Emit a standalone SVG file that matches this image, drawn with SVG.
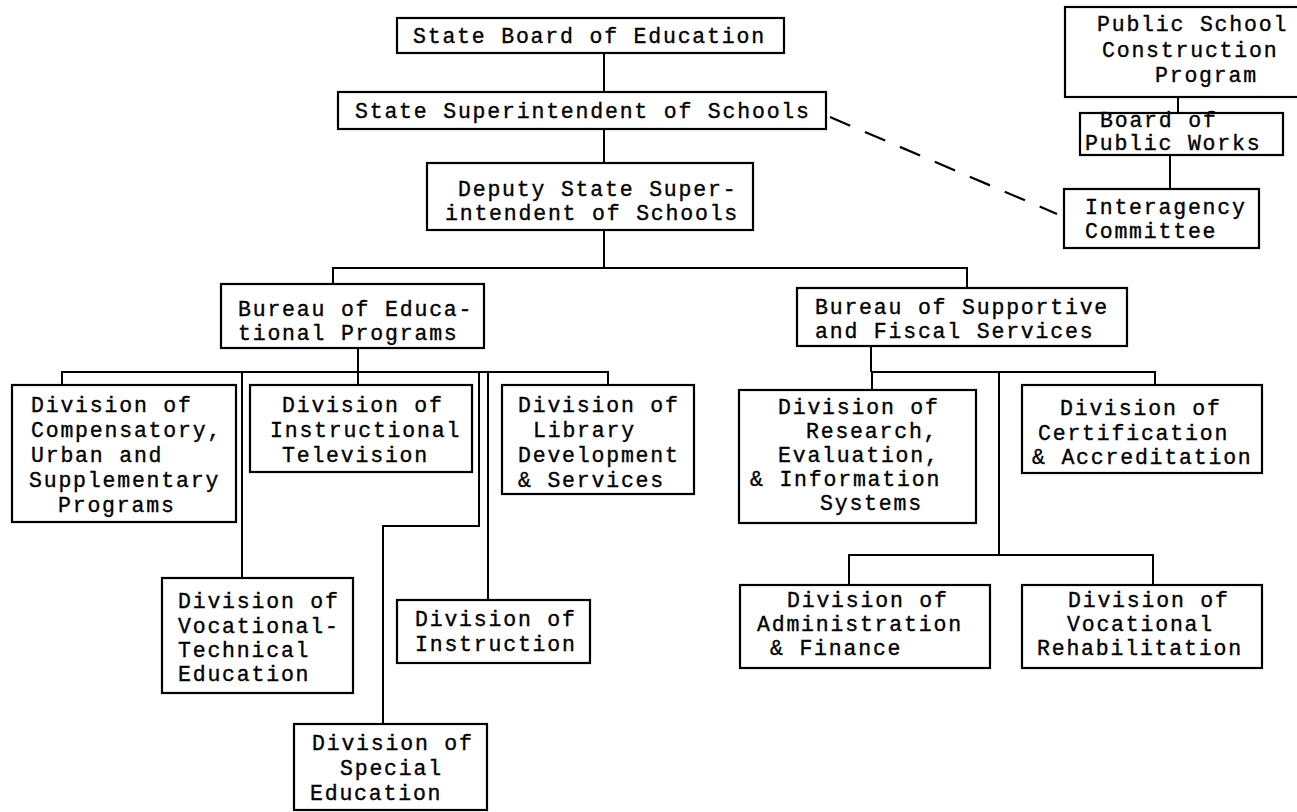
<svg xmlns="http://www.w3.org/2000/svg" width="1297" height="812" viewBox="0 0 1297 812">
<style>
rect{fill:#fff;stroke:#000;stroke-width:2.2}
text{font-family:"Liberation Mono","Courier New",monospace;font-size:21.5px;letter-spacing:1.8px;fill:#000;stroke:#000;stroke-width:0.35}
.c{fill:none;stroke:#000;stroke-width:2}
.d{fill:none;stroke:#000;stroke-width:2.2;stroke-dasharray:22 16}
</style>
<rect width="1297" height="812" style="fill:#fff;stroke:none"/>
<g id="connectors">
<path class="c" d="M604 53V92M604 129V163M604 230V268M333 284V268H967V288"/>
<path class="c" d="M358 348V385M62 385V372H608V385M242 372V578M479 372V526H383V724M488 372V600"/>
<path class="c" d="M871 346V372M872 390V372H1155V385M999 372V555M849 585V555H1153V585"/>
<path class="c" d="M1178 97V113M1170 155V189"/>
<path class="d" d="M830 117L1057 214"/>
</g>
<g id="board"><rect x="397" y="18" width="387" height="35"/><text x="413" y="43">State Board of Education</text></g>
<g id="super"><rect x="338" y="92" width="488" height="37"/><text x="355" y="118">State Superintendent of Schools</text></g>
<g id="deputy"><rect x="427" y="163" width="326" height="67"/><text x="458" y="196">Deputy State Super-</text><text x="445" y="220">intendent of Schools</text></g>
<g id="pscp"><rect x="1065" y="7" width="240" height="90"/><text x="1097" y="31">Public School</text><text x="1102" y="57">Construction</text><text x="1155" y="82">Program</text></g>
<g id="bpw"><rect x="1080" y="113" width="203" height="42"/><text x="1100" y="127">Board of</text><text x="1085" y="150">Public Works</text></g>
<g id="interagency"><rect x="1064" y="189" width="195" height="59"/><text x="1085" y="214">Interagency</text><text x="1085" y="238">Committee</text></g>
<g id="bureauEd"><rect x="221" y="284" width="263" height="64"/><text x="238" y="316">Bureau of Educa-</text><text x="238" y="340">tional Programs</text></g>
<g id="bureauSupp"><rect x="797" y="288" width="330" height="58"/><text x="815" y="314">Bureau of Supportive</text><text x="815" y="338">and Fiscal Services</text></g>
<g id="comp"><rect x="12" y="385" width="224" height="137"/><text x="31" y="412">Division of</text><text x="31" y="437">Compensatory,</text><text x="31" y="462">Urban and</text><text x="29" y="487">Supplementary</text><text x="58" y="512">Programs</text></g>
<g id="tv"><rect x="250" y="385" width="222" height="87"/><text x="282" y="412">Division of</text><text x="270" y="437">Instructional</text><text x="282" y="462">Television</text></g>
<g id="library"><rect x="502" y="385" width="192" height="109"/><text x="518" y="412">Division of</text><text x="533" y="437">Library</text><text x="518" y="462">Development</text><text x="518" y="487">&amp; Services</text></g>
<g id="voctech"><rect x="162" y="578" width="191" height="115"/><text x="178" y="608">Division of</text><text x="178" y="633">Vocational-</text><text x="178" y="657">Technical</text><text x="178" y="681">Education</text></g>
<g id="instruction"><rect x="397" y="600" width="193" height="63"/><text x="415" y="626">Division of</text><text x="415" y="651">Instruction</text></g>
<g id="special"><rect x="294" y="724" width="193" height="86"/><text x="312" y="750">Division of</text><text x="340" y="775">Special</text><text x="310" y="800">Education</text></g>
<g id="research"><rect x="739" y="390" width="237" height="133"/><text x="778" y="414">Division of</text><text x="806" y="438">Research,</text><text x="778" y="462">Evaluation,</text><text x="750" y="486">&amp; Information</text><text x="820" y="510">Systems</text></g>
<g id="cert"><rect x="1022" y="385" width="240" height="88"/><text x="1060" y="415">Division of</text><text x="1038" y="440">Certification</text><text x="1032" y="464">&amp; Accreditation</text></g>
<g id="admin"><rect x="740" y="585" width="250" height="83"/><text x="787" y="607">Division of</text><text x="757" y="631">Administration</text><text x="770" y="655">&amp; Finance</text></g>
<g id="vocrehab"><rect x="1022" y="585" width="240" height="83"/><text x="1068" y="607">Division of</text><text x="1067" y="631">Vocational</text><text x="1037" y="655">Rehabilitation</text></g>
</svg>
